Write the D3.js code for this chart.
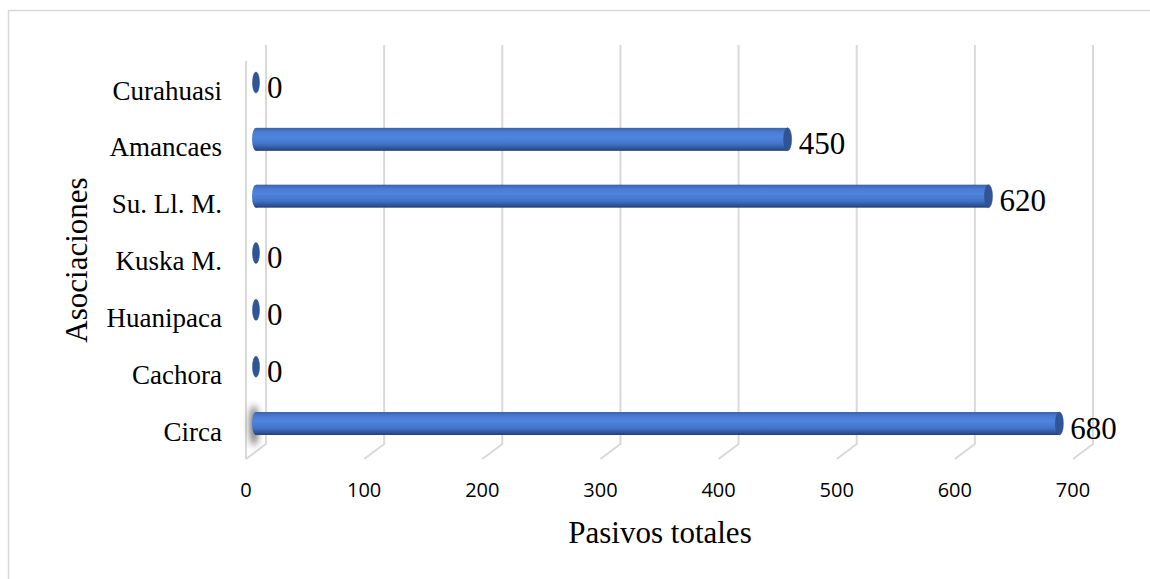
<!DOCTYPE html>
<html>
<head>
<meta charset="utf-8">
<script src="https://cdn.jsdelivr.net/npm/d3@7"></script>
<style>
  body { margin: 0; background: #fff; }
  svg { display: block; }
</style>
</head>
<body>
<svg id="viz"></svg>
<script>
// data (top to bottom)
const categories = ["Curahuasi", "Amancaes", "Su. Ll. M.", "Kuska M.", "Huanipaca", "Cachora", "Circa"];
const values = [0, 450, 620, 0, 0, 0, 680];
const ticks = [0, 100, 200, 300, 400, 500, 600, 700];
const xTitle = "Pasivos totales";
const yTitle = "Asociaciones";

const width = 1150, height = 579;

const svg = d3.select("#viz")
  .attr("width", width)
  .attr("height", height);

// 3d offsets: the back wall sits up-right of the front edge
const depthX = -20, depthY = 15;
const wallTop = 45, wallBottom = 444;

// x scale on the back wall
const x = d3.scaleLinear().domain([0, 700]).range([266, 1093]);
// category centres (bars sit half way in depth)
const y = d3.scalePoint().domain(categories).range([82.5, 423.5]);

const defs = svg.append("defs");

const grad = defs.append("linearGradient")
  .attr("id", "cyl")
  .attr("x1", 0).attr("y1", 0).attr("x2", 0).attr("y2", 1);
grad.selectAll("stop")
  .data([
    [0, "#3a62aa"], [0.18, "#4a7bd2"], [0.4, "#4f85de"],
    [0.7, "#4373c8"], [0.88, "#30579c"], [1, "#223f75"]
  ])
  .enter().append("stop")
  .attr("offset", d => d[0])
  .attr("stop-color", d => d[1]);

const blur = defs.append("filter").attr("id", "blur")
  .attr("x", "-100%").attr("y", "-50%").attr("width", "300%").attr("height", "200%");
blur.append("feGaussianBlur").attr("stdDeviation", 3.5);

// outer frame
svg.append("path")
  .attr("d", "M8.5,579 V10.5 H1150")
  .attr("fill", "none")
  .attr("stroke", "#d9d9d9")
  .attr("stroke-width", 1.5);

const grid = svg.append("g")
  .attr("stroke", "#d9d9d9")
  .attr("stroke-width", 2)
  .attr("fill", "none");

// side wall front edge
grid.append("line")
  .attr("x1", x(0) + depthX).attr("x2", x(0) + depthX)
  .attr("y1", wallTop + depthY + 1).attr("y2", wallBottom + depthY);

// gridlines on the back wall plus the floor diagonals
grid.selectAll("path.tick")
  .data(ticks)
  .enter().append("path")
  .attr("class", "tick")
  .attr("d", d => "M" + x(d) + "," + wallTop + " V" + wallBottom +
    " L" + (x(d) + depthX) + "," + (wallBottom + depthY));

// soft shadow on the side wall next to Circa
svg.append("ellipse")
  .attr("cx", x(0) + depthX / 2 - 2)
  .attr("cy", y("Circa") + 2)
  .attr("rx", 4)
  .attr("ry", 20)
  .attr("fill", "#555")
  .attr("opacity", 0.9)
  .attr("filter", "url(#blur)");

// tick labels along the front edge
svg.append("g")
  .selectAll("text")
  .data(ticks)
  .enter().append("text")
  .attr("x", d => x(d) + depthX)
  .attr("y", 497)
  .attr("text-anchor", "middle")
  .attr("font-family", "'Open Sans', sans-serif")
  .attr("font-size", 20)
  .attr("fill", "#000")
  .text(d => d);

// cylinders
const r = 11.5, capRx = 4;
const xm = v => x(v) + depthX / 2;

const bars = svg.append("g")
  .selectAll("g")
  .data(categories.map((c, i) => ({ cat: c, val: values[i] })))
  .enter().append("g");

bars.filter(d => d.val > 0).append("ellipse")
  .attr("cx", xm(0))
  .attr("cy", d => y(d.cat))
  .attr("rx", capRx)
  .attr("ry", r)
  .attr("fill", "url(#cyl)");

bars.filter(d => d.val > 0).append("rect")
  .attr("x", xm(0))
  .attr("y", d => y(d.cat) - r)
  .attr("width", d => xm(d.val) - xm(0))
  .attr("height", 2 * r)
  .attr("fill", "url(#cyl)");

// end caps (zero values show only the cap)
bars.append("ellipse")
  .attr("cx", d => xm(d.val))
  .attr("cy", d => y(d.cat))
  .attr("rx", d => d.val > 0 ? capRx : 3.5)
  .attr("ry", d => d.val > 0 ? r : 10.5)
  .attr("fill", "#2f5597")
  .attr("stroke", "#2a4d8a")
  .attr("stroke-width", 0.5);

// value labels
bars.append("text")
  .attr("x", d => xm(d.val) + 11)
  .attr("y", d => y(d.cat) + 15)
  .attr("font-family", "'Liberation Serif', 'Times New Roman', serif")
  .attr("font-size", 31)
  .attr("fill", "#000")
  .text(d => d.val);

// category labels
svg.append("g")
  .selectAll("text")
  .data(categories)
  .enter().append("text")
  .attr("x", 222)
  .attr("y", d => y(d) + 17)
  .attr("text-anchor", "end")
  .attr("font-family", "'Liberation Serif', 'Times New Roman', serif")
  .attr("font-size", 27)
  .attr("fill", "#000")
  .text(d => d);

// axis titles
svg.append("text")
  .attr("x", 660)
  .attr("y", 543)
  .attr("text-anchor", "middle")
  .attr("font-family", "'Liberation Serif', 'Times New Roman', serif")
  .attr("font-size", 31)
  .attr("fill", "#000")
  .text(xTitle);

svg.append("text")
  .attr("transform", "translate(87,260) rotate(-90)")
  .attr("text-anchor", "middle")
  .attr("font-family", "'Liberation Serif', 'Times New Roman', serif")
  .attr("font-size", 31)
  .attr("fill", "#000")
  .text(yTitle);
</script>
</body>
</html>
